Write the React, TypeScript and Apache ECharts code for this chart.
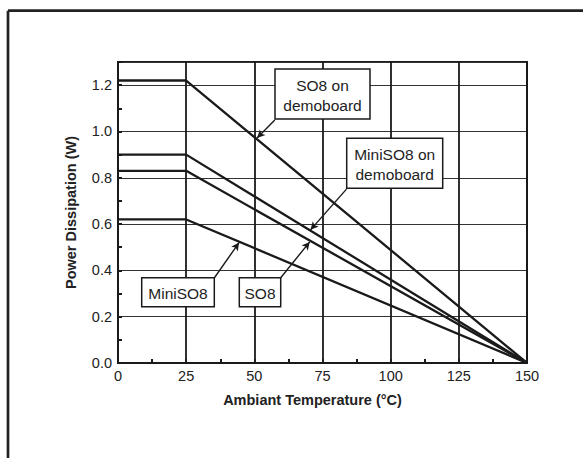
import React, { useEffect, useRef } from "react";
import * as echarts from "echarts";

// ---- data ----
const temperatures = [0, 25, 150];
const so8DemoboardW = [1.22, 1.22, 0];
const miniSo8DemoboardW = [0.9, 0.9, 0];
const so8W = [0.83, 0.83, 0];
const miniSo8W = [0.62, 0.62, 0];

const seriesNames = ["SO8 on demoboard", "MiniSO8 on demoboard", "SO8", "MiniSO8"];
const seriesValues = [so8DemoboardW, miniSo8DemoboardW, so8W, miniSo8W];

// callout leaders: [startTemp, startW, endTemp, endW]
const leaderSo8Demo = [57.5, 1.049, 51.0, 0.972];
const leaderMiniSo8Demo = [83.8, 0.751, 70.6, 0.575];
const leaderSo8 = [59.6, 0.367, 70.3, 0.523];
const leaderMiniSo8 = [35.3, 0.367, 44.4, 0.52];

const xTickLabels = ["0", "25", "50", "75", "100", "125", "150"];

const FONT = "'Liberation Sans', Arial, Helvetica, sans-serif";
const INK = "#1a1a1a";

export default function App() {
  const ref = useRef<HTMLDivElement>(null);

  useEffect(() => {
    if (!ref.current) return;
    const chart = echarts.init(ref.current, undefined, { renderer: "svg" });

    const lineData = (vals: number[]) => temperatures.map((t, i) => [t, vals[i]]);
    const leader = (l: number[]) => [{ coord: [l[0], l[1]] }, { coord: [l[2], l[3]] }];

    const box = (x: number, y: number, w: number, h: number, text: string) => ({
      type: "group",
      z: 100,
      children: [
        {
          type: "rect",
          shape: { x, y, width: w, height: h },
          style: { fill: "#fff", stroke: INK, lineWidth: 1.5 },
          z: 100,
        },
        {
          type: "text",
          z: 101,
          style: {
            text,
            x: x + w / 2,
            y: y + h / 2 + 1,
            textAlign: "center",
            textVerticalAlign: "middle",
            fontFamily: FONT,
            fontSize: 15.5,
            lineHeight: 20,
            fill: "#222",
          },
        },
      ],
    });

    const option: any = {
      animation: false,
      backgroundColor: "#fff",
      grid: {
        left: 118,
        top: 62,
        right: 56,
        bottom: 95,
        show: true,
        borderColor: INK,
        borderWidth: 2,
        backgroundColor: "transparent",
        containLabel: false,
      },
      xAxis: {
        type: "value",
        min: 0,
        max: 150,
        interval: 25,
        name: "Ambiant Temperature (°C)",
        nameLocation: "middle",
        nameGap: 29,
        nameTextStyle: {
          fontFamily: FONT,
          fontWeight: "bold",
          fontSize: 14.5,
          color: "#222",
          padding: [0, 20, 0, 0],
        },
        axisLine: { show: true, lineStyle: { color: INK, width: 2 } },
        axisTick: { show: true, inside: true, length: 4, lineStyle: { color: INK, width: 1.5 } },
        minorTick: { show: true, splitNumber: 2, length: 4, lineStyle: { color: INK, width: 2 } },
        axisLabel: {
          margin: 5,
          fontFamily: FONT,
          fontSize: 14.5,
          color: "#222",
          formatter: (v: number) => xTickLabels[Math.round(v / 25)] ?? "",
        },
        splitLine: { show: true, lineStyle: { color: INK, width: 1.8 } },
      },
      yAxis: [
        {
          type: "value",
          min: 0,
          max: 1.3,
          interval: 0.1,
          name: "Power Dissipation (W)",
          nameLocation: "middle",
          nameGap: 40,
          nameTextStyle: {
            fontFamily: FONT,
            fontWeight: "bold",
            fontSize: 14.5,
            color: "#222",
          },
          axisLine: { show: true, lineStyle: { color: INK, width: 2 } },
          axisTick: { show: true, inside: true, length: 4, lineStyle: { color: INK, width: 2 } },
          axisLabel: {
            margin: 6,
            fontFamily: FONT,
            fontSize: 14.5,
            color: "#222",
            formatter: (v: number) => {
              const k = Math.round(v * 10);
              return k % 2 === 0 && k <= 12 ? v.toFixed(1) : "";
            },
          },
          splitLine: { show: false },
        },
        {
          type: "value",
          min: 0,
          max: 1.3,
          interval: 0.2,
          position: "left",
          axisLine: { show: false },
          axisTick: { show: false },
          axisLabel: { show: false },
          splitLine: { show: true, lineStyle: { color: "#333", width: 1.2 } },
        },
      ],
      series: seriesNames.map((name, i) => ({
        name,
        type: "line",
        yAxisIndex: 0,
        data: lineData(seriesValues[i]),
        symbol: "none",
        z: 5,
        lineStyle: { color: INK, width: 2.3 },
        markLine:
          i === 0
            ? {
                silent: true,
                symbol: ["none", "arrow"],
                symbolSize: [6, 8],
                label: { show: false },
                lineStyle: { color: INK, width: 1.4, type: "solid" },
                data: [
                  leader(leaderSo8Demo),
                  leader(leaderMiniSo8Demo),
                  leader(leaderSo8),
                  leader(leaderMiniSo8),
                ],
              }
            : undefined,
      })),
      graphic: [
        {
          type: "line",
          shape: { x1: 8, y1: 10.7, x2: 583, y2: 10.7 },
          style: { stroke: "#222", lineWidth: 2.7 },
        },
        {
          type: "line",
          shape: { x1: 8, y1: 10.7, x2: 8, y2: 458 },
          style: { stroke: "#222", lineWidth: 2.7 },
        },
        box(275, 69, 95, 50, "SO8 on\ndemoboard"),
        box(346.7, 138.3, 96, 50, "MiniSO8 on\ndemoboard"),
        box(141.7, 277.7, 72.6, 29, "MiniSO8"),
        box(239.3, 277.7, 41.4, 29, "SO8"),
      ],
    };

    chart.setOption(option);
    return () => chart.dispose();
  }, []);

  return (
    <div
      ref={ref}
      style={{ position: "absolute", left: 0, top: 0, width: 583, height: 458, background: "#fff" }}
    />
  );
}
